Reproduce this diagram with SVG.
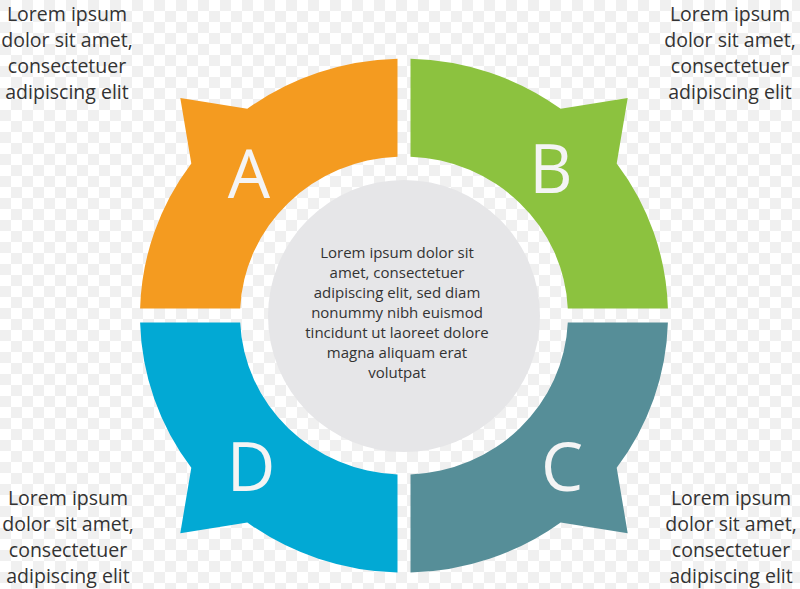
<svg xmlns="http://www.w3.org/2000/svg" width="800" height="589" viewBox="0 0 800 589">
<defs>
<pattern id="chk" width="22" height="22" patternUnits="userSpaceOnUse">
<rect width="22" height="22" fill="#ffffff"/>
<rect width="11" height="11" fill="#f0f0f0"/>
<rect x="11" y="11" width="11" height="11" fill="#f0f0f0"/>
</pattern>
</defs>
<style>
.seg{stroke:none}
.letter{font-family:"Open Sans","Liberation Sans",sans-serif;font-size:67px;fill:#f4f4f4;text-anchor:middle}
.ctext{font-family:"Open Sans","Liberation Sans",sans-serif;font-size:15px;fill:#333333;text-anchor:middle}
.corner{font-family:"Open Sans","Liberation Sans",sans-serif;font-size:19.5px;fill:#333333;text-anchor:middle}
</style>
<rect width="800" height="589" fill="url(#chk)"/>
<g id="center">
<circle cx="404" cy="316" r="136" fill="#e6e6e8"/>
<text class="ctext" x="397" y="258">Lorem ipsum dolor sit</text>
<text class="ctext" x="397" y="278">amet, consectetuer</text>
<text class="ctext" x="397" y="298">adipiscing elit, sed diam</text>
<text class="ctext" x="397" y="318">nonummy nibh euismod</text>
<text class="ctext" x="397" y="338">tincidunt ut laoreet dolore</text>
<text class="ctext" x="397" y="358">magna aliquam erat</text>
<text class="ctext" x="397" y="378">volutpat</text>
</g>
<g id="segA">
<path class="seg" fill="#f49b20" d="M397.5,58.7 L397.5,156.7 A164,159 0 0 0 240.2,308.6 L140.1,308.6 A264,257 0 0 1 191.3,163.4 L180.3,98 L247.3,108.8 A264,257 0 0 1 397.5,58.7 Z"/>
<text class="letter" x="249" y="198">A</text>
</g>
<g id="segB">
<path class="seg" fill="#8cc23f" d="M410.5,58.7 L410.5,156.7 A164,159 0 0 1 567.8,308.6 L667.9,308.6 A264,257 0 0 0 616.7,163.4 L627.7,98 L560.7,108.8 A264,257 0 0 0 410.5,58.7 Z"/>
<text class="letter" x="551" y="193">B</text>
</g>
<g id="segC">
<path class="seg" fill="#568e98" d="M410.5,572.5 L410.5,474.5 A164,159 0 0 0 567.8,322.6 L667.9,322.6 A264,257 0 0 1 616.7,467.8 L627.7,533.2 L560.7,522.4 A264,257 0 0 1 410.5,572.5 Z"/>
<text class="letter" x="562" y="491">C</text>
</g>
<g id="segD">
<path class="seg" fill="#02a9d4" d="M397.5,572.5 L397.5,474.5 A164,159 0 0 1 240.2,322.6 L140.1,322.6 A264,257 0 0 0 191.3,467.8 L180.3,533.2 L247.3,522.4 A264,257 0 0 0 397.5,572.5 Z"/>
<text class="letter" x="251" y="491">D</text>
</g>
<g id="noteTL">
<text class="corner" x="67" y="21">Lorem ipsum</text>
<text class="corner" x="67" y="47">dolor sit amet,</text>
<text class="corner" x="67" y="73">consectetuer</text>
<text class="corner" x="67" y="99">adipiscing elit</text>
</g>
<g id="noteTR">
<text class="corner" x="730" y="21">Lorem ipsum</text>
<text class="corner" x="730" y="47">dolor sit amet,</text>
<text class="corner" x="730" y="73">consectetuer</text>
<text class="corner" x="730" y="99">adipiscing elit</text>
</g>
<g id="noteBL">
<text class="corner" x="68" y="505">Lorem ipsum</text>
<text class="corner" x="68" y="531">dolor sit amet,</text>
<text class="corner" x="68" y="557">consectetuer</text>
<text class="corner" x="68" y="583">adipiscing elit</text>
</g>
<g id="noteBR">
<text class="corner" x="731" y="505">Lorem ipsum</text>
<text class="corner" x="731" y="531">dolor sit amet,</text>
<text class="corner" x="731" y="557">consectetuer</text>
<text class="corner" x="731" y="583">adipiscing elit</text>
</g>
<g id="connectors"></g>
</svg>
